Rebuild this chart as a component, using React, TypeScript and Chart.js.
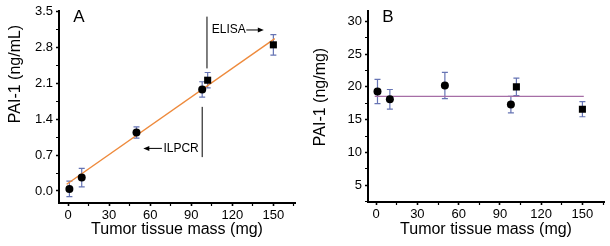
import React, { useEffect, useRef } from 'react';
import { Chart, registerables } from 'chart.js';

Chart.register(...registerables);

// ---------- data ----------
const massIlpcr = [1, 10, 50, 98];
const massElisa = [102, 150];
const fitMass = [-1, 151];

// Panel A: PAI-1 (ng/mL)
const concIlpcr = [0.04, 0.26, 1.14, 1.98];
const concIlpcrErr = [0.15, 0.18, 0.11, 0.15];
const concElisa = [2.16, 2.85];
const concElisaErr = [0.15, 0.2];
const concFit = [0.13, 2.97];

// Panel B: PAI-1 (ng/mg)
const densIlpcr = [19.3, 18.1, 20.2, 17.3];
const densIlpcrErr = [1.85, 1.5, 2.0, 1.25];
const densElisa = [20.0, 16.6];
const densElisaErr = [1.33, 1.15];
const densFit = [18.55, 18.55];

// annotations (data units) for panel A
const noteText = ['ELISA', 'ILPCR'];
const noteLineX = [101.5, 98];
const noteLineY0 = [2.39, 0.66];
const noteLineY1 = [3.4, 1.64];
const noteTextX = [105, 95.5];
const noteTextY = [3.14, 0.83];
const noteArrowTo = [143, 55];
const noteAlign: CanvasTextAlign[] = ['left', 'right'];

const FONT = "'Liberation Sans', Arial, Helvetica, sans-serif";
const ERR_COLOR = '#6674b4';

type PanelCfg = {
  letter: string;
  yTitle: string;
  yTitleY: number;
  yVals: number[];
  yErr: number[];
  sVals: number[];
  sErr: number[];
  fit: number[];
  fitColor: string;
  xMin: number; xMax: number;
  yMin: number; yMax: number;
  yStep: number; yDecimals: number;
  left: number; right: number; top: number; bottom: number;
  notes: boolean;
};

const panelA: PanelCfg = {
  letter: 'A', yTitle: 'PAI-1 (ng/mL)', yTitleY: 74,
  yVals: concIlpcr, yErr: concIlpcrErr, sVals: concElisa, sErr: concElisaErr,
  fit: concFit, fitColor: '#ee8a3c',
  xMin: -6.6, xMax: 165.8, yMin: -0.235, yMax: 3.51, yStep: 0.35, yDecimals: 1,
  left: 59, right: 10, top: 11, bottom: 43, notes: true,
};

const panelB: PanelCfg = {
  letter: 'B', yTitle: 'PAI-1 (ng/mg)', yTitleY: 97,
  yVals: densIlpcr, yErr: densIlpcrErr, sVals: densElisa, sErr: densElisaErr,
  fit: densFit, fitColor: '#a66ea6',
  xMin: -5.9, xMax: 165.7, yMin: 2.45, yMax: 31.6, yStep: 2.5, yDecimals: 0,
  left: 63, right: 6, top: 9, bottom: 44, notes: false,
};

function makePlugin(cfg: PanelCfg) {
  return {
    id: 'extras' + cfg.letter,
    beforeDatasetsDraw(chart: any) {
      const { ctx, scales } = chart;
      const xs = scales.x, ys = scales.y;
      ctx.save();
      ctx.strokeStyle = ERR_COLOR;
      ctx.lineWidth = 1.2;
      const drawSet = (xv: number[], yv: number[], ev: number[]) => {
        xv.forEach((x, i) => {
          const px = xs.getPixelForValue(x);
          const p0 = ys.getPixelForValue(yv[i] - ev[i]);
          const p1 = ys.getPixelForValue(yv[i] + ev[i]);
          ctx.beginPath();
          ctx.moveTo(px, p0); ctx.lineTo(px, p1);
          ctx.moveTo(px - 3, p0); ctx.lineTo(px + 3, p0);
          ctx.moveTo(px - 3, p1); ctx.lineTo(px + 3, p1);
          ctx.stroke();
        });
      };
      drawSet(massIlpcr, cfg.yVals, cfg.yErr);
      drawSet(massElisa, cfg.sVals, cfg.sErr);
      ctx.restore();
    },
    afterDraw(chart: any) {
      const { ctx, scales, chartArea } = chart;
      const xs = scales.x, ys = scales.y;
      ctx.save();
      ctx.fillStyle = '#000';
      // axis titles
      ctx.font = `16px ${FONT}`;
      ctx.textAlign = 'center';
      ctx.textBaseline = 'middle';
      ctx.fillText('Tumor tissue mass (mg)', (chartArea.left + chartArea.right) / 2, 230);
      ctx.save();
      ctx.translate(15.5, cfg.yTitleY);
      ctx.rotate(-Math.PI / 2);
      ctx.fillText(cfg.yTitle, 0, 0);
      ctx.restore();
      // panel letter
      ctx.font = `17px ${FONT}`;
      ctx.fillText(cfg.letter, chartArea.left + 20, chartArea.top + 6.5);

      if (cfg.notes) {
        ctx.font = `12px ${FONT}`;
        ctx.strokeStyle = '#000';
        ctx.lineWidth = 1;
        noteText.forEach((t, i) => {
          const lx = xs.getPixelForValue(noteLineX[i]);
          ctx.beginPath();
          ctx.moveTo(lx, ys.getPixelForValue(noteLineY0[i]));
          ctx.lineTo(lx, ys.getPixelForValue(noteLineY1[i]));
          ctx.stroke();
          const tx = xs.getPixelForValue(noteTextX[i]);
          const ty = ys.getPixelForValue(noteTextY[i]);
          ctx.textAlign = noteAlign[i];
          ctx.textBaseline = 'middle';
          ctx.fillText(t, tx, ty);
          const w = ctx.measureText(t).width;
          const start = noteAlign[i] === 'left' ? tx + w + 0.5 : tx - w - 1.5;
          const end = xs.getPixelForValue(noteArrowTo[i]);
          const dir = end > start ? 1 : -1;
          const ay = ty;
          ctx.beginPath();
          ctx.moveTo(start, ay);
          ctx.lineTo(end - dir * 4, ay);
          ctx.stroke();
          ctx.beginPath();
          ctx.moveTo(end, ay);
          ctx.lineTo(end - dir * 6, ay - 2.5);
          ctx.lineTo(end - dir * 6, ay + 2.5);
          ctx.closePath();
          ctx.fill();
        });
      }
      ctx.restore();
    },
  };
}

function Panel({ cfg }: { cfg: PanelCfg }) {
  const ref = useRef<HTMLCanvasElement>(null);
  useEffect(() => {
    if (!ref.current) return;
    const xStep = 15;
    const chart = new Chart(ref.current, {
      type: 'scatter',
      data: {
        datasets: [
          {
            label: 'ILPCR',
            data: massIlpcr.map((x, i) => ({ x, y: cfg.yVals[i] })),
            pointStyle: 'circle',
            pointRadius: 4,
            backgroundColor: '#000',
            borderColor: '#000',
            borderWidth: 0,
          },
          {
            label: 'ELISA',
            data: massElisa.map((x, i) => ({ x, y: cfg.sVals[i] })),
            pointStyle: 'rect',
            pointRadius: 5,
            backgroundColor: '#000',
            borderColor: '#000',
            borderWidth: 0,
          },
          {
            type: 'line',
            label: 'fit',
            data: fitMass.map((x, i) => ({ x, y: cfg.fit[i] })),
            borderColor: cfg.fitColor,
            borderWidth: 1.4,
            pointRadius: 0,
            fill: false,
          } as any,
        ],
      },
      options: {
        animation: false,
        responsive: true,
        maintainAspectRatio: false,
        layout: { padding: { top: cfg.top, right: cfg.right, left: 0, bottom: 0 } },
        plugins: { legend: { display: false }, tooltip: { enabled: false } },
        scales: {
          x: {
            type: 'linear',
            min: cfg.xMin,
            max: cfg.xMax,
            afterFit: (s: any) => { s.height = cfg.bottom; },
            border: { display: true, color: '#000', width: 2 },
            grid: {
              drawOnChartArea: false,
              drawTicks: true,
              tickLength: 3,
              color: '#000',
              tickWidth: (c: any) => (c.tick && Math.round(c.tick.value) % 30 === 0 ? 1.6 : 1.2),
            },
            ticks: {
              stepSize: xStep,
              includeBounds: false,
              autoSkip: false,
              maxRotation: 0,
              padding: 2,
              color: '#000',
              font: { family: FONT, size: 13 },
              callback: (v: any) => (Math.round(v) % 30 === 0 ? String(Math.round(v)) : ''),
            },
          },
          y: {
            type: 'linear',
            min: cfg.yMin,
            max: cfg.yMax,
            afterFit: (s: any) => { s.width = cfg.left; },
            border: { display: true, color: '#000', width: 2 },
            grid: {
              drawOnChartArea: false,
              drawTicks: true,
              tickLength: 3,
              color: '#000',
              tickWidth: (c: any) => (c.tick && Math.round(c.tick.value / cfg.yStep) % 2 === 0 ? 1.6 : 1.2),
            },
            ticks: {
              stepSize: cfg.yStep,
              includeBounds: false,
              autoSkip: false,
              padding: 3,
              color: '#000',
              font: { family: FONT, size: 13 },
              callback: (v: any) =>
                Math.round(v / cfg.yStep) % 2 === 0 ? Number(v).toFixed(cfg.yDecimals) : '',
            },
          },
        },
      },
      plugins: [makePlugin(cfg)],
    } as any);
    return () => chart.destroy();
  }, [cfg]);
  return (
    <div style={{ position: 'relative', width: 305, height: 246 }}>
      <canvas ref={ref} />
    </div>
  );
}

export default function App() {
  return (
    <div
      style={{
        position: 'fixed',
        left: 0,
        top: 0,
        width: 610,
        height: 246,
        display: 'flex',
        background: '#fff',
      }}
    >
      <Panel cfg={panelA} />
      <Panel cfg={panelB} />
    </div>
  );
}
